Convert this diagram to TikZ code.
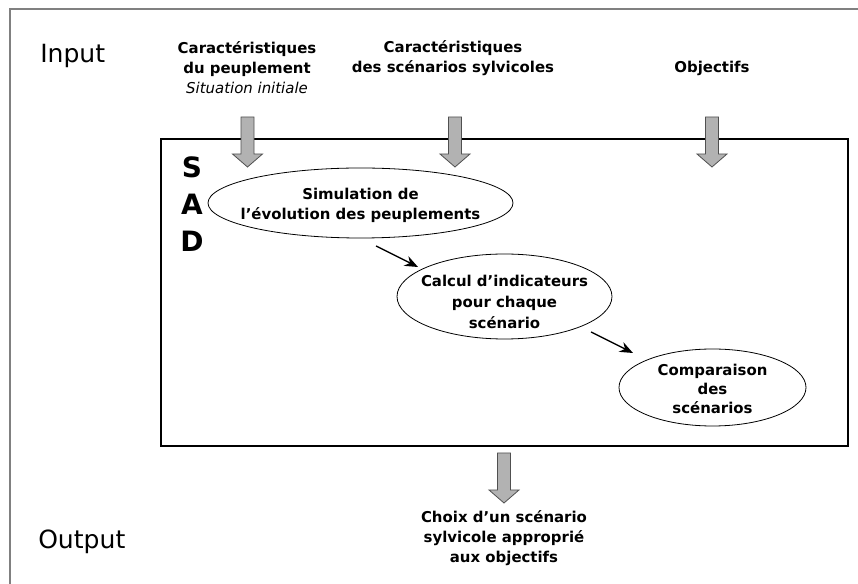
\documentclass[tikz,border=0pt]{standalone}
\usepackage{fontspec}
\setmainfont{DejaVu Sans}
\usetikzlibrary{shapes.geometric,arrows.meta}
\definecolor{framegray}{RGB}{128,128,128}
\definecolor{arrowfill}{RGB}{178,178,178}
\definecolor{arrowline}{RGB}{80,80,80}
\tikzset{
  lbl/.style={font={\fontsize{11.2}{15}\selectfont\bfseries}, align=center, inner sep=0pt},
  bigword/.style={font={\fontsize{18.8}{22}\selectfont}, inner sep=0pt},
  sadtext/.style={font={\fontsize{21}{27.75}\selectfont\bfseries}, align=center, inner sep=0pt},
  procell/.style={ellipse, draw=black, line width=0.6pt, inner sep=0pt},
  flow/.style={line width=1pt, -{Stealth[length=10pt,width=8pt]}},
  blockarrow/.style={fill=arrowfill, draw=arrowline, line width=0.6pt},
  downarrow/.pic={\path[blockarrow] (-6.5,0) -- (6.5,0) -- (6.5,37) -- (15,37) -- (0,50) -- (-15,37) -- (-6.5,37) -- cycle;}
}
\begin{document}
\begin{tikzpicture}[x=0.75pt,y=-0.75pt]
\useasboundingbox (0,0) rectangle (858,584);
% outer frame (only top and left visible)
\draw[framegray, line width=1.5pt] (858,9.5) -- (9.5,9.5) -- (9.5,584);
% inner SAD box
\draw[black, line width=1pt] (161,139) rectangle (848,446);

% side labels
\node[bigword, anchor=base west] (inlbl) at (40,63) {Input};
\node[bigword, anchor=base west] (outlbl) at (38,549) {Output};

% input labels
\node[lbl] (in1) at (247,68) {Caractéristiques\\du peuplement\\{\mdseries\itshape Situation initiale}};
\node[lbl] (in2) at (453,58) {Caractéristiques\\des scénarios sylvicoles};
\node[lbl] (in3) at (712,68) {Objectifs};

% block arrows
\pic at (247.5,117) {downarrow};
\pic at (455,117) {downarrow};
\pic at (712,117) {downarrow};
\pic at (504,453) {downarrow};

% SAD
\node[sadtext] (sad) at (192,204) {S\\A\\D};

% process ellipses (sizes in pt = px * 0.75)
\node[procell, minimum width=228.75pt, minimum height=52.5pt,
  label={[lbl, yshift=-2pt]center:Simulation de\\l’évolution des peuplements}] (e1) at (360.5,203) {};
\node[procell, minimum width=161.25pt, minimum height=63.75pt,
  label={[lbl, yshift=-4pt, font={\fontsize{11.2}{16}\selectfont\bfseries}]center:Calcul d’indicateurs\\pour chaque\\scénario}] (e2) at (504.5,296.5) {};
\node[procell, minimum width=140.25pt, minimum height=57.75pt,
  label={[lbl, yshift=-1pt, font={\fontsize{11.2}{14}\selectfont\bfseries}]center:Comparaison\\des\\scénarios}] (e3) at (712.5,387.5) {};

% flow arrows
\coordinate (f1s) at (376,246);
\coordinate (f1e) at (418,267);
\coordinate (f2s) at (591,332);
\coordinate (f2e) at (633,353);
\draw[flow] (f1s) -- (f1e);
\draw[flow] (f2s) -- (f2e);

% output label
\node[lbl] (out) at (504,538) {Choix d’un scénario\\sylvicole approprié\\aux objectifs};
\end{tikzpicture}
\end{document}
